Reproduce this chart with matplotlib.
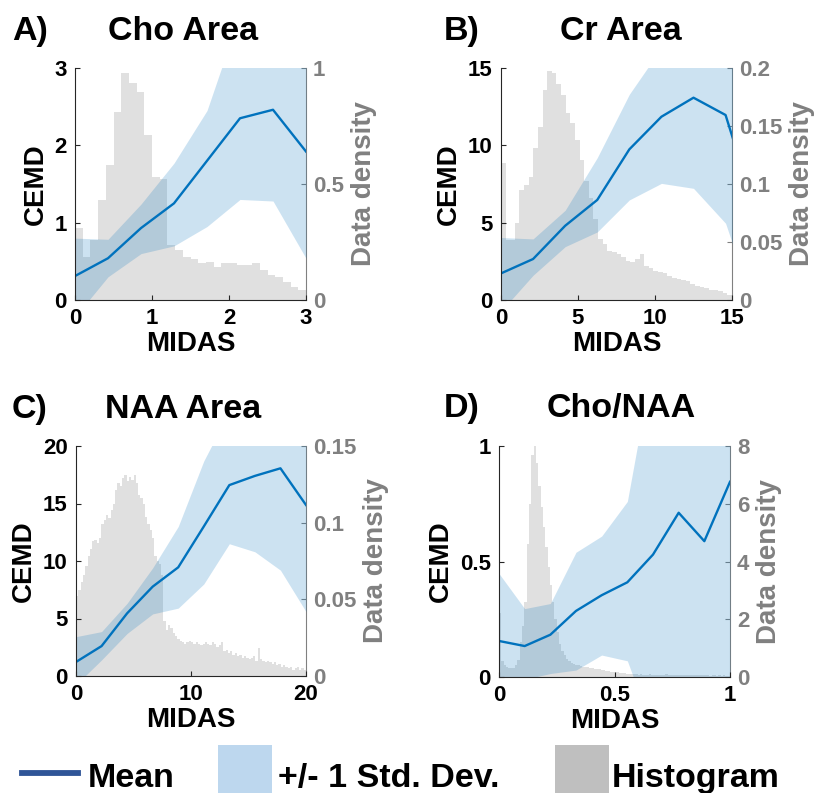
import numpy as np
import matplotlib
matplotlib.use('Agg')
import matplotlib.pyplot as plt
from matplotlib.lines import Line2D
from matplotlib.patches import Rectangle

plt.rcParams['font.family'] = ['Liberation Sans', 'DejaVu Sans']
plt.rcParams['font.weight'] = 'bold'

# ---------------- data ----------------
# Panel A: Cho Area
a_x = [0, 0.4286, 0.8571, 1.2857, 1.7143, 2.1429, 2.5714, 3.0]
a_mean = [0.31, 0.54, 0.93, 1.25, 1.80, 2.35, 2.46, 1.92]
a_upper = [0.80, 0.785, 1.24, 1.77, 2.45, 3.7, 3.6, 3.3]
a_lower = [-0.22, 0.30, 0.60, 0.70, 0.95, 1.30, 1.28, 0.54]
a_hist_range = (0, 3)
a_hist = [0.31, 0.187, 0.26, 0.43, 0.58, 0.81, 0.977, 0.934, 0.898, 0.71,
          0.53, 0.52, 0.237, 0.215, 0.185, 0.175, 0.158, 0.165, 0.144, 0.158,
          0.158, 0.151, 0.151, 0.158, 0.13, 0.108, 0.098, 0.079, 0.055, 0.043]

# Panel B: Cr Area
b_x = [0, 2.083, 4.167, 6.25, 8.333, 10.417, 12.5, 14.583, 16.667]
b_mean = [1.72, 2.65, 4.8, 6.47, 9.74, 11.85, 13.08, 11.96, 5.3]
b_upper = [4.04, 3.95, 5.8, 9.2, 13.3, 16.3, 17.0, 16.5, 15.5]
b_lower = [-0.73, 1.6, 3.45, 4.4, 6.47, 7.54, 7.22, 4.96, -1.2]
b_hist_range = (0, 15)
b_hist = [0.118, 0.052, 0.052, 0.066, 0.095, 0.099, 0.106, 0.131, 0.149, 0.181,
          0.197, 0.196, 0.186, 0.177, 0.161, 0.153, 0.138, 0.121, 0.103, 0.088,
          0.070, 0.053, 0.048, 0.042, 0.041, 0.040, 0.037, 0.034, 0.033, 0.035,
          0.040, 0.029, 0.028, 0.025, 0.024, 0.023, 0.021, 0.019, 0.018, 0.017,
          0.016, 0.014, 0.012, 0.011, 0.010, 0.009, 0.009, 0.008, 0.006, 0.004]

# Panel C: NAA Area
c_x = [0, 2.222, 4.444, 6.667, 8.889, 11.111, 13.333, 15.556, 17.778, 20.0]
c_mean = [1.22, 2.6, 5.45, 7.77, 9.45, 13.0, 16.6, 17.4, 18.06, 14.87]
c_upper = [3.42, 3.86, 6.32, 9.4, 13.0, 18.7, 23.0, 23.0, 22.0, 21.0]
c_lower = [-0.76, 1.4, 3.7, 5.4, 5.9, 8.0, 11.5, 10.8, 9.2, 5.6]
c_hist_range = (0, 20)
c_hist = [0.052, 0.056, 0.061, 0.066, 0.072, 0.078, 0.083, 0.088, 0.089, 0.087,
          0.090, 0.099, 0.102, 0.105, 0.103, 0.108, 0.112, 0.121, 0.126, 0.124,
          0.129, 0.131, 0.127, 0.130, 0.128, 0.131, 0.126, 0.118, 0.116, 0.112,
          0.104, 0.099, 0.095, 0.090, 0.078, 0.075, 0.073, 0.066, 0.036, 0.030,
          0.033, 0.031, 0.028, 0.026, 0.024, 0.023, 0.022, 0.021, 0.022, 0.023,
          0.022, 0.021, 0.022, 0.021, 0.020, 0.021, 0.022, 0.021, 0.020, 0.022,
          0.021, 0.019, 0.020, 0.022, 0.016, 0.017, 0.015, 0.016, 0.014, 0.015,
          0.013, 0.014, 0.012, 0.013, 0.012, 0.011, 0.012, 0.013, 0.010, 0.018,
          0.011, 0.010, 0.009, 0.010, 0.009, 0.008, 0.009, 0.007, 0.008, 0.006,
          0.007, 0.006, 0.005, 0.006, 0.004, 0.005, 0.006, 0.004, 0.005, 0.004]

# Panel D: Cho/NAA
d_x = [0, 0.1111, 0.2222, 0.3333, 0.4444, 0.5556, 0.6667, 0.7778, 0.8889, 1.0]
d_mean = [0.156, 0.134, 0.183, 0.286, 0.354, 0.41, 0.53, 0.711, 0.588, 0.845]
d_upper = [0.448, 0.296, 0.318, 0.54, 0.61, 0.76, 1.37, 1.8, 1.6, 1.9]
d_lower = [-0.15, -0.01, 0.015, 0.03, 0.095, 0.07, -0.23, -0.4, -0.5, -0.3]
d_hist_range = (0, 1)
d_hist = [2.2, 0.55, 0.4, 0.35, 0.3, 0.3, 0.32, 0.4, 0.6, 1.2,
          1.75, 2.6, 4.6, 6.0, 7.7, 8.0, 7.4, 6.6, 5.9, 5.2,
          4.5, 3.8, 3.2, 2.6, 2.0, 1.55, 1.15, 0.9, 0.75, 0.62,
          0.55, 0.5, 0.45, 0.42, 0.4, 0.38, 0.36, 0.34, 0.33, 0.31,
          0.3, 0.29, 0.27, 0.26, 0.25, 0.24, 0.22, 0.21, 0.18, 0.19,
          0.17, 0.16, 0.15, 0.14, 0.13, 0.12, 0.11, 0.09, 0.1, 0.09,
          0.08, 0.09, 0.08, 0.07, 0.08, 0.09, 0.08, 0.07, 0.08, 0.08,
          0.07, 0.08, 0.09, 0.07, 0.08, 0.07, 0.08, 0.08, 0.07, 0.06,
          0.07, 0.08, 0.07, 0.06, 0.07, 0.08, 0.06, 0.07, 0.06, 0.07,
          0.06, 0.05, 0.06, 0.07, 0.05, 0.06, 0.05, 0.06, 0.05, 0.04]

titles = ['Cho Area', 'Cr Area', 'NAA Area', 'Cho/NAA']
letters = ['A)', 'B)', 'C)', 'D)']
x_ticks = [[0, 1, 2, 3], [0, 5, 10, 15], [0, 10, 20], [0, 0.5, 1]]
y_ticks = [[0, 1, 2, 3], [0, 5, 10, 15], [0, 5, 10, 15, 20], [0, 0.5, 1]]
y2_ticks = [[0, 0.5, 1], [0, 0.05, 0.1, 0.15, 0.2], [0, 0.05, 0.1, 0.15], [0, 2, 4, 6, 8]]
legend_labels = ['Mean', '+/- 1 Std. Dev.', 'Histogram']

# ---------------- layout ----------------
W, H = 822, 793
fig = plt.figure(figsize=(W / 100, H / 100), dpi=100)

rects = [(75, 68, 306, 300), (501, 68, 732, 300), (76, 446, 306, 676), (499, 446, 730, 677)]
title_pos = [(12, 183, 40), (444, 621, 40), (12, 183, 418), (444, 621, 417)]

series = [
    (a_x, a_mean, a_upper, a_lower, a_hist_range, a_hist),
    (b_x, b_mean, b_upper, b_lower, b_hist_range, b_hist),
    (c_x, c_mean, c_upper, c_lower, c_hist_range, c_hist),
    (d_x, d_mean, d_upper, d_lower, d_hist_range, d_hist),
]

BLUE = '#0072bd'
GRAY_TXT = '#808080'
HIST_C = '#e0e0e0'
AX_C = '#262626'

fmt = lambda v: '%g' % v

for i, (x, mean, up, lo, hr, hist) in enumerate(series):
    l, t, r, b = rects[i]
    ax = fig.add_axes([l / W, 1 - b / H, (r - l) / W, (b - t) / H])
    ax2 = ax.twinx()

    edges = np.linspace(hr[0], hr[1], len(hist) + 1)
    ax2.stairs(hist, edges, fill=True, color=HIST_C, linewidth=0)

    ax.fill_between(x, lo, up, color=BLUE, alpha=0.2, linewidth=0)
    ax.plot(x, mean, color=BLUE, lw=1.7)

    ax.set_zorder(ax2.get_zorder() + 1)
    ax.patch.set_visible(False)

    ax.set_xlim(x_ticks[i][0], x_ticks[i][-1])
    ax.set_ylim(y_ticks[i][0], y_ticks[i][-1])
    ax2.set_ylim(y2_ticks[i][0], y2_ticks[i][-1])

    ax.set_xticks(x_ticks[i], [fmt(v) for v in x_ticks[i]])
    ax.set_yticks(y_ticks[i], [fmt(v) for v in y_ticks[i]])
    ax2.set_yticks(y2_ticks[i], [fmt(v) for v in y2_ticks[i]])

    for s in ['top', 'right']:
        ax.spines[s].set_visible(False)
    for s in ['top', 'left', 'bottom']:
        ax2.spines[s].set_visible(False)
    for s in ['left', 'bottom']:
        ax.spines[s].set_color(AX_C)
        ax.spines[s].set_linewidth(0.8)
    ax2.spines['right'].set_color(GRAY_TXT)
    ax2.spines['right'].set_linewidth(0.8)

    ax.tick_params(direction='in', length=3.5, width=0.8, colors=AX_C,
                   labelcolor='black', labelsize=16, pad=6)
    ax2.tick_params(axis='y', direction='in', length=3.5, width=0.8,
                    colors=GRAY_TXT, labelsize=16, pad=5)

    ax.set_xlabel('MIDAS', fontsize=20, fontweight='bold', labelpad=1)
    ax.set_ylabel('CEMD', fontsize=20, fontweight='bold', labelpad=4)
    ax2.set_ylabel('Data density', fontsize=20, fontweight='bold',
                   color=GRAY_TXT, labelpad=5)

    lx, cx, by = title_pos[i]
    fig.text(lx / W, 1 - by / H, letters[i], fontsize=24.5, fontweight='bold',
             ha='left', va='baseline')
    fig.text(cx / W, 1 - by / H, titles[i], fontsize=24.5, fontweight='bold',
             ha='center', va='baseline')

# ---------------- legend ----------------
ly = 1 - 773 / H
base = 1 - 787 / H
fig.add_artist(Line2D([22 / W, 78 / W], [ly, ly], color='#2f5597', lw=4.2,
                      transform=fig.transFigure))
fig.text(88 / W, base, legend_labels[0], fontsize=24.5, fontweight='bold', va='baseline')
fig.add_artist(Rectangle((218 / W, 0), 54 / W, (H - 745) / H, color='#bdd7ee',
                         transform=fig.transFigure, lw=0))
fig.text(278 / W, base, legend_labels[1], fontsize=24.5, fontweight='bold', va='baseline')
fig.add_artist(Rectangle((555 / W, 0), 54 / W, (H - 745) / H, color='#bfbfbf',
                         transform=fig.transFigure, lw=0))
fig.text(612 / W, base, legend_labels[2], fontsize=24.5, fontweight='bold', va='baseline')

fig.savefig('out.png', dpi=100)
